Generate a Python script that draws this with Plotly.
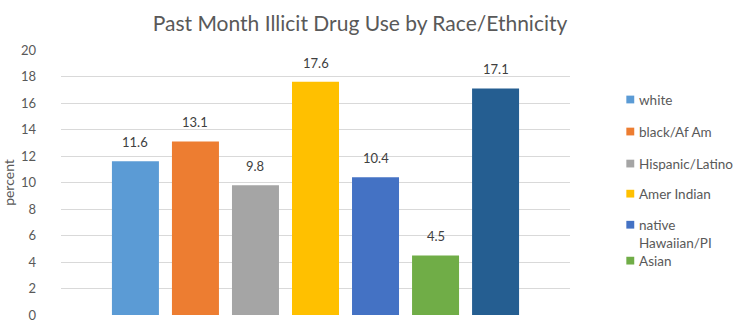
import plotly.graph_objects as go

title = "Past Month Illicit Drug Use by Race/Ethnicity"
groups = ["white", "black/Af Am", "Hispanic/Latino", "Amer Indian",
          "native Hawaiian/PI", "Asian", "two or more races"]
values = [11.6, 13.1, 9.8, 17.6, 10.4, 4.5, 17.1]
colors = ["#5B9BD5", "#ED7D31", "#A5A5A5", "#FFC000", "#4472C4", "#70AD47", "#255E91"]
legend_lines = [["white"], ["black/Af Am"], ["Hispanic/Latino"], ["Amer Indian"],
                ["native", "Hawaiian/PI"], ["Asian"]]
y_ticks = [0, 2, 4, 6, 8, 10, 12, 14, 16, 18, 20]

W, H = 735, 329
L, R, T, B = 55, 570, 50, 323
font = "Lato, 'Open Sans', sans-serif"
grey = "#595959"

fig = go.Figure()
for name, v, c in zip(groups, values, colors):
    fig.add_trace(go.Bar(x=[name], y=[v], name=name, marker_color=c,
                         marker_line_width=0, showlegend=False))

annotations = []
for name, v in zip(groups, values):
    annotations.append(dict(x=name, y=v, xref="x", yref="y", text=f"{v:.1f}",
                            showarrow=False, yanchor="bottom", yshift=9,
                            font=dict(size=13, color="#404040", family=font)))

# manual legend (Excel-style, with wrapped entry)
def px_x(p):
    return (p - L) / (R - L)

def px_y(p):
    return (B - p) / (B - T)

row_y = [[101], [134], [167], [198], [230, 249], [267]]
shapes = []
for lines, ys, c in zip(legend_lines, row_y, colors):
    for i, (txt, yy) in enumerate(zip(lines, ys)):
        annotations.append(dict(x=px_x(638), y=px_y(yy), xref="paper", yref="paper",
                                text=txt, showarrow=False, xanchor="left", yanchor="middle",
                                font=dict(size=13.5, color=grey, family=font)))
        if i == 0:
            shapes.append(dict(type="rect", xref="paper", yref="paper",
                               x0=px_x(627), x1=px_x(635), y0=px_y(yy + 4), y1=px_y(yy - 4),
                               fillcolor=c, line_width=0))

fig.update_layout(
    width=W, height=H,
    margin=dict(l=L, r=W - R, t=T, b=H - B),
    paper_bgcolor="white", plot_bgcolor="white",
    bargap=0.217,
    font=dict(family=font, color=grey, size=13),
    title=dict(text=title, x=360 / W, xanchor="center", xref="container",
               y=1 - 24 / H, yanchor="middle", yref="container",
               font=dict(size=21, color=grey, family=font)),
    yaxis=dict(range=[0, 20], tickvals=y_ticks, showgrid=True, gridcolor="#D9D9D9",
               gridwidth=1, zeroline=False, showline=False,
               tickfont=dict(size=13, color=grey), ticklabelstandoff=24,
               ticklabeloverflow="allow",
               title=dict(text="percent", font=dict(size=14, color=grey), standoff=5)),
    xaxis=dict(showticklabels=False, showgrid=False, zeroline=False, showline=False,
               range=[-1.24, 7.24]),
    annotations=annotations, shapes=shapes,
)
fig.write_html("out.html")
